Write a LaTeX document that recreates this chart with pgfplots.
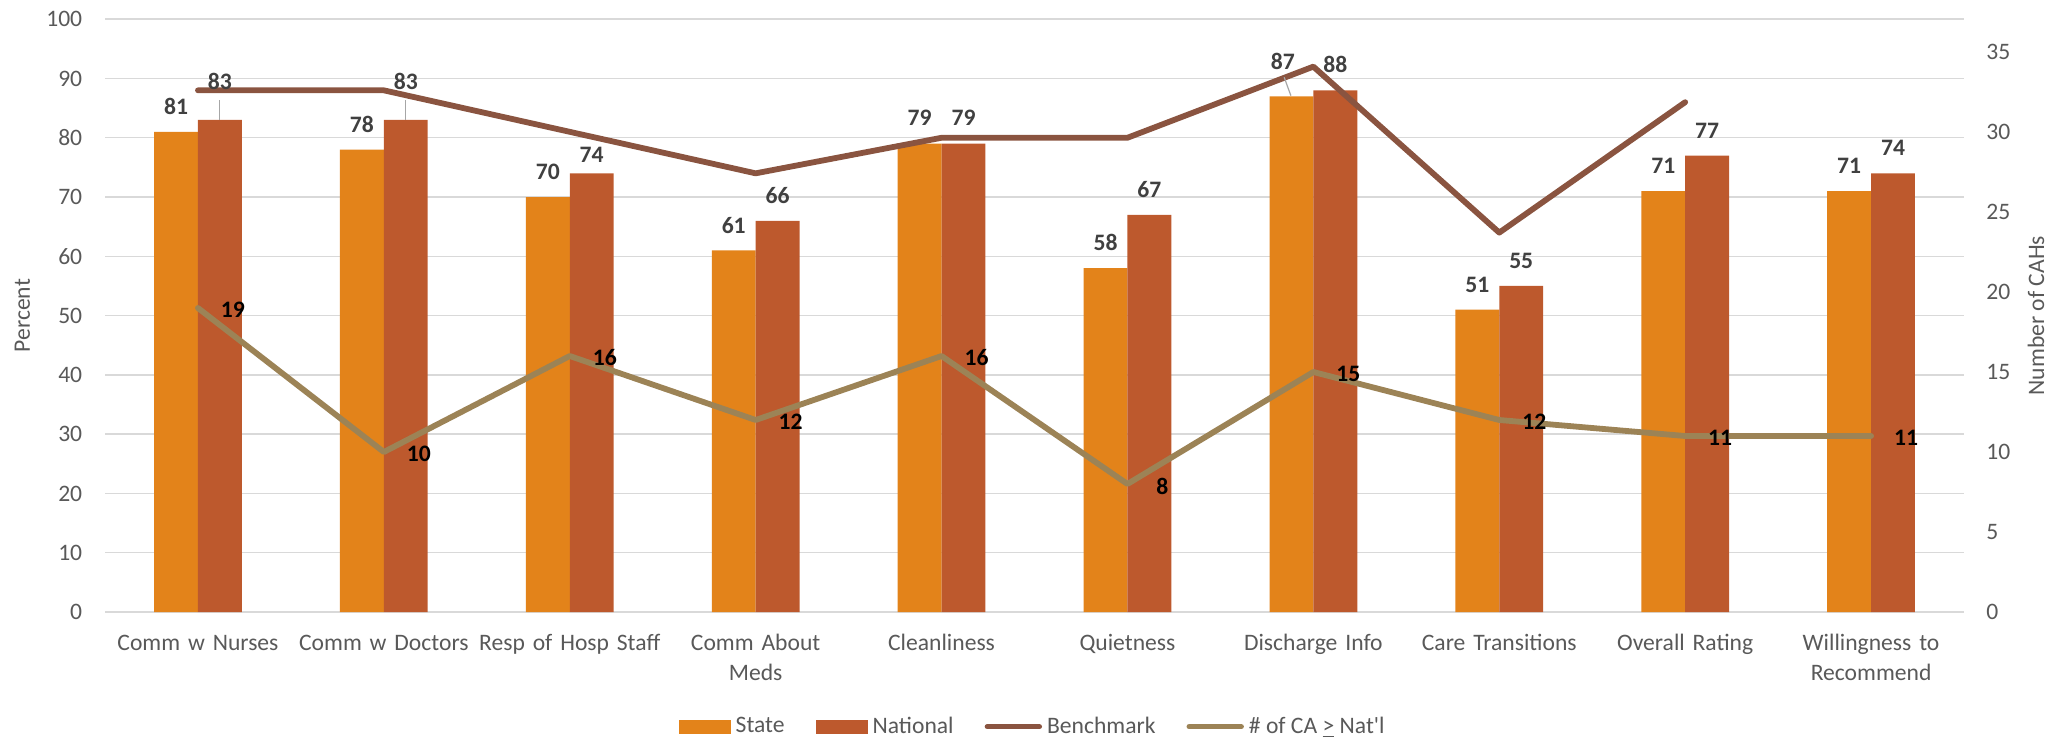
\documentclass[border=0pt]{standalone}
\usepackage{fontspec}
\setmainfont{Carlito}
\usepackage{pgfplots}
\pgfplotsset{compat=1.18}
\definecolor{stateC}{HTML}{E3831A}
\definecolor{natC}{HTML}{BD592D}
\definecolor{benchC}{HTML}{8A5440}
\definecolor{caC}{HTML}{9C8356}
\definecolor{gridC}{HTML}{D9D9D9}
\definecolor{txtC}{HTML}{595959}
\definecolor{lblC}{HTML}{404040}
\newcommand{\lblfont}{\fontsize{11.8}{15}\selectfont}
\begin{document}
\begin{tikzpicture}
\useasboundingbox (0,0) rectangle (1032pt,370pt);
\begin{axis}[
  at={(52.5pt,64pt)}, anchor=south west, scale only axis,
  width=929.5pt, height=296.4pt,
  xmin=-0.5, xmax=9.5, ymin=0, ymax=100,
  ytick={0,10,...,100},
  ymajorgrids, major grid style={draw=gridC, line width=0.7pt},
  xtick={0,...,9},
  xticklabels={Comm w Nurses, Comm w Doctors, Resp of Hosp Staff, {Comm About\\Meds}, Cleanliness, Quietness, Discharge Info, Care Transitions, Overall Rating, {Willingness to\\Recommend}},
  major tick length=0pt, axis line style={draw=none},
  /pgf/number format/assume math mode=true,
  ticklabel style={font=\lblfont, text=txtC},
  yticklabel style={anchor=east, inner sep=0pt, xshift=-11.2pt},
  xticklabel style={text width=120pt, align=center, anchor=base, inner sep=0pt, yshift=-19.2pt},
  every axis y label/.style={at={(axis description cs:-0.0445,0.5)}, rotate=90, anchor=center, font=\lblfont, text=txtC},
  ylabel={Percent},
  clip=false,
  legend style={at={(axis description cs:0.4987,-0.1935)}, anchor=center, draw=none, fill=none,
    font=\lblfont, text=txtC, inner sep=0pt,
    /tikz/every odd column/.append style={column sep=2pt},
    /tikz/every even column/.append style={column sep=15pt},
    nodes={inner sep=0.5pt}},
  legend columns=4, legend cell align=left,
]
\addplot[ybar, bar width=0.236, bar shift=-0.118, fill=stateC, draw=none,
  legend image code/.code={\fill[stateC] (0pt,-3.5pt) rectangle (26pt,3.5pt);}]
  coordinates {(0,81) (1,78) (2,70) (3,61) (4,79) (5,58) (6,87) (7,51) (8,71) (9,71)};
\addlegendentry{State}
\addplot[ybar, bar width=0.236, bar shift=0.118, fill=natC, draw=none,
  legend image code/.code={\fill[natC] (0pt,-3.5pt) rectangle (26pt,3.5pt);}]
  coordinates {(0,83) (1,83) (2,74) (3,66) (4,79) (5,67) (6,88) (7,55) (8,77) (9,74)};
\addlegendentry{National}
\addplot[benchC, line width=2.9pt, line cap=round, line join=round, mark=none,
  legend image code/.code={\draw[benchC, line width=2.7pt, line cap=round] (1pt,0pt) -- (27pt,0pt);}]
  coordinates {(0,88) (1,88) (2,81) (3,74) (4,80) (5,80) (6,92) (7,64) (8,86)};
\addlegendentry{Benchmark}
% leader lines
\addplot[forget plot, color=black!35, line width=0.6pt, mark=none] coordinates {(0.118,83) (0.118,86.4)};
\addplot[forget plot, color=black!35, line width=0.6pt, mark=none] coordinates {(1.118,83) (1.118,86.4)};
\addplot[forget plot, color=black!35, line width=0.6pt, mark=none] coordinates {(5.879,87.1) (5.843,90.2)};
% state labels
\addplot[forget plot, draw=none, mark=none, nodes near coords, point meta=explicit symbolic,
  every node near coord/.append style={anchor=center, font=\lblfont\bfseries, text=lblC, inner sep=0pt}]
  coordinates {(-0.118,85.2) [81] (0.882,82.2) [78] (1.882,74.3) [70] (2.882,65.2) [61] (3.882,83.3) [79]
               (4.882,62.3) [58] (5.836,92.9) [87] (6.882,55.2) [51] (7.882,75.2) [71] (8.882,75.2) [71]};
% national labels
\addplot[forget plot, draw=none, mark=none, nodes near coords, point meta=explicit symbolic,
  every node near coord/.append style={anchor=center, font=\lblfont\bfseries, text=lblC, inner sep=0pt}]
  coordinates {(0.118,89.5) [83] (1.118,89.5) [83] (2.118,77.1) [74] (3.118,70.2) [66] (4.118,83.3) [79]
               (5.118,71.2) [67] (6.118,92.4) [88] (7.118,59.2) [55] (8.118,81.2) [77] (9.118,78.3) [74]};
\addlegendimage{legend image code/.code={\draw[caC, line width=2.7pt, line cap=round] (1pt,0pt) -- (27pt,0pt);}}
\addlegendentry{\# of CA \underline{>} Nat\textquotesingle l}
\end{axis}
\begin{axis}[
  at={(52.5pt,64pt)}, anchor=south west, scale only axis,
  width=929.5pt, height=296.4pt,
  xmin=-0.5, xmax=9.5, ymin=0, ymax=37.05,
  axis y line*=right, axis x line=none,
  ytick={0,5,...,35},
  major tick length=0pt, axis line style={draw=none},
  /pgf/number format/assume math mode=true,
  ticklabel style={font=\lblfont, text=txtC},
  yticklabel style={anchor=west, inner sep=0pt, xshift=11pt},
  every axis y label/.style={at={(axis description cs:1.0387,0.5)}, rotate=90, anchor=center, font=\lblfont, text=txtC},
  ylabel={Number of CAHs},
  clip=false,
]
\addplot[caC, line width=2.9pt, line join=round, line cap=round, mark=none,
  nodes near coords, point meta=explicit symbolic,
  every node near coord/.append style={anchor=center, xshift=17.5pt, yshift=-1pt, font=\lblfont\bfseries, text=black, inner sep=0pt}]
  coordinates {(0,19) [19] (1,10) [10] (2,16) [16] (3,12) [12] (4,16) [16]
               (5,8) [8] (6,15) [15] (7,12) [12] (8,11) [11] (9,11) [11]};
\end{axis}
\end{tikzpicture}
\end{document}
